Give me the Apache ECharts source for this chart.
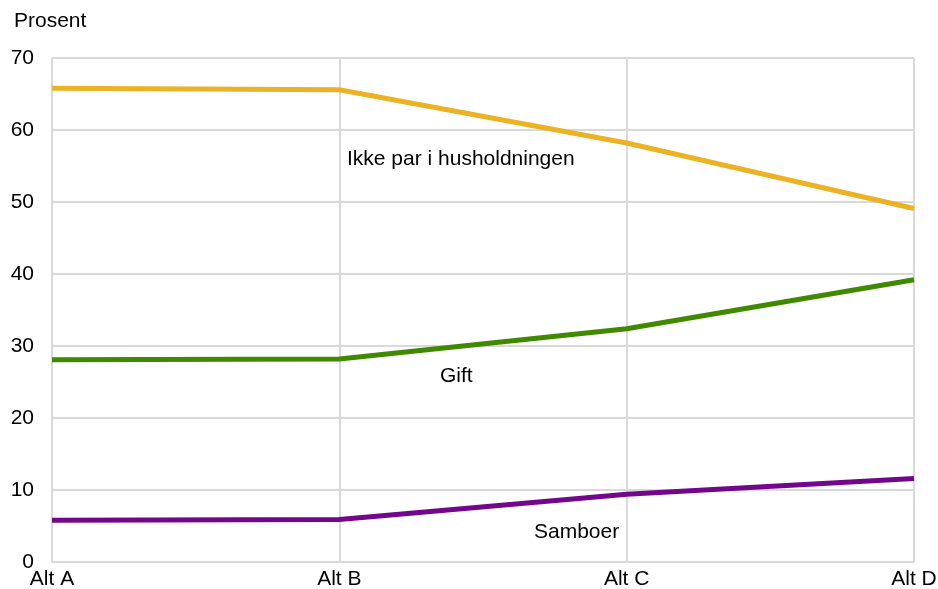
<!DOCTYPE html>
<html>
<head>
<meta charset="utf-8">
<script src="https://cdn.jsdelivr.net/npm/echarts@6/dist/echarts.min.js"></script>
<style>
  html, body { margin: 0; padding: 0; background: #fff; }
  #chart { width: 938px; height: 589px; }
</style>
</head>
<body>
<div id="chart"></div>
<script>
// kategorier og verdier (lest av figuren)
var categories = ['Alt A', 'Alt B', 'Alt C', 'Alt D'];
var ikkePar = [65.8, 65.6, 58.2, 49.1];
var gift = [28.1, 28.2, 32.4, 39.2];
var samboer = [5.8, 5.9, 9.4, 11.6];
var yTicks = [0, 10, 20, 30, 40, 50, 60, 70];

var chart = echarts.init(document.getElementById('chart'));
var font = 'Liberation Sans, Arial, sans-serif';
var fs = 21;

function line(name, data, color) {
  return {
    name: name,
    type: 'line',
    data: data,
    symbol: 'none',
    lineStyle: { color: color, width: 5 },
    itemStyle: { color: color }
  };
}

var option = {
  backgroundColor: '#ffffff',
  animation: false,
  grid: { left: 52, right: 24, top: 58, bottom: 27, outerBoundsMode: 'none', containLabel: false },
  xAxis: {
    type: 'category',
    boundaryGap: false,
    data: categories,
    axisLine: { lineStyle: { color: '#d9d9d9', width: 2 } },
    axisTick: { show: false },
    axisLabel: { color: '#000', fontSize: fs, fontFamily: font, margin: 7 },
    splitLine: { show: true, lineStyle: { color: '#d9d9d9', width: 2 } }
  },
  yAxis: {
    type: 'value',
    min: yTicks[0],
    max: yTicks[yTicks.length - 1],
    interval: 10,
    axisLine: { show: false },
    axisTick: { show: false },
    axisLabel: { color: '#000', fontSize: fs, fontFamily: font, margin: 18 },
    splitLine: { show: true, lineStyle: { color: '#d9d9d9', width: 2 } }
  },
  series: [
    line('Ikke par i husholdningen', ikkePar, '#ebb324'),
    line('Gift', gift, '#3f8a00'),
    line('Samboer', samboer, '#72078c')
  ],
  graphic: [
    { type: 'text', left: 14, top: 11, style: { text: 'Prosent', fontSize: fs, fontFamily: font, fill: '#000' } },
    { type: 'text', left: 347, top: 149, style: { text: 'Ikke par i husholdningen', fontSize: fs, fontFamily: font, fill: '#000' } },
    { type: 'text', left: 440, top: 366, style: { text: 'Gift', fontSize: fs, fontFamily: font, fill: '#000' } },
    { type: 'text', left: 534, top: 522, style: { text: 'Samboer', fontSize: fs, fontFamily: font, fill: '#000' } }
  ]
};

chart.setOption(option);
</script>
</body>
</html>
